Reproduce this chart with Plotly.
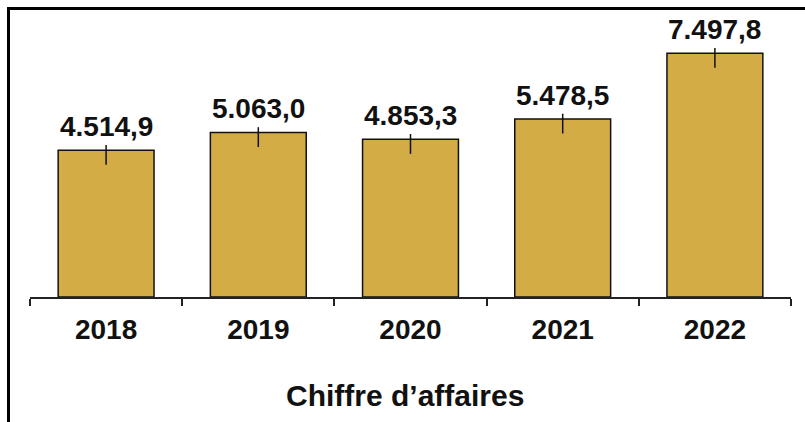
import plotly.graph_objects as go

# Chiffre d'affaires par année
years = ["2018", "2019", "2020", "2021", "2022"]
revenue = [4514.9, 5063.0, 4853.3, 5478.5, 7497.8]
labels = ["4.514,9", "5.063,0", "4.853,3", "5.478,5", "7.497,8"]

# small marker lines at the top of each bar (above / below the top)
err_plus = [160] * len(years)
err_minus = [450] * len(years)

FONT = "Liberation Sans, Arial, sans-serif"
W, H = 805, 422
ML, MT = 10, 10          # outer frame sits on the paper edge
PW, PH = W - ML, H - MT


def px_x(x):
    return (x - ML) / PW


def px_y(y):
    return (H - y) / PH


# main bar subplot placed inside the frame
X_LEFT, X_RIGHT = 30, 791
Y_TOP, Y_BASE = 20, 297

fig = go.Figure()
fig.add_trace(go.Bar(
    x=years,
    y=revenue,
    width=0.63,
    marker=dict(color="#D3AC45", line=dict(color="#111111", width=1.5)),
    error_y=dict(
        type="data", symmetric=False, array=err_plus, arrayminus=err_minus,
        width=0, thickness=1.5, color="#111111",
    ),
    hoverinfo="skip",
    xaxis="x", yaxis="y",
))
# empty trace that carries the frame axes
fig.add_trace(go.Scatter(x=[], y=[], xaxis="x2", yaxis="y2",
                         showlegend=False, hoverinfo="skip"))

annotations = []
for i, (v, lab) in enumerate(zip(revenue, labels)):
    annotations.append(dict(
        x=i, y=v, xref="x", yref="y", text=lab, showarrow=False,
        xanchor="center", yanchor="bottom", yshift=6,
        font=dict(family=FONT, size=28, color="#111111", weight="bold"),
    ))

annotations.append(dict(
    x=px_x(W / 2 + 2), y=px_y(395), xref="paper", yref="paper",
    text="Chiffre d’affaires", showarrow=False,
    xanchor="center", yanchor="middle",
    font=dict(family=FONT, size=30, color="#111111", weight="bold"),
))

fig.update_layout(
    width=W, height=H,
    margin=dict(l=ML, r=0, t=MT, b=0, pad=0),
    paper_bgcolor="white", plot_bgcolor="rgba(0,0,0,0)",
    showlegend=False,
    annotations=annotations,
    xaxis=dict(
        domain=[px_x(X_LEFT), px_x(X_RIGHT)], anchor="y",
        type="category", range=[-0.5, 4.5], autorange=False,
        tickson="boundaries", ticks="outside", ticklen=7,
        tickwidth=2, tickcolor="#222222", showline=True, linecolor="#222222",
        linewidth=2, showgrid=False, zeroline=False,
        tickfont=dict(family=FONT, size=28, color="#111111", weight="bold"),
        ticklabelstandoff=6,
    ),
    yaxis=dict(
        domain=[px_y(Y_BASE), px_y(Y_TOP)], anchor="x",
        range=[0, 8520], autorange=False, visible=False,
        showgrid=False, zeroline=False,
    ),
    # frame: top and left edges drawn as axis lines of a full-size subplot
    xaxis2=dict(
        domain=[0, 1], anchor="y2", side="top", range=[0, 1],
        showline=True, linecolor="black", linewidth=3,
        showticklabels=False, ticks="", showgrid=False, zeroline=False,
        fixedrange=True,
    ),
    yaxis2=dict(
        domain=[0, 1], anchor="x2", side="left", range=[0, 1],
        showline=True, linecolor="black", linewidth=3,
        showticklabels=False, ticks="", showgrid=False, zeroline=False,
        fixedrange=True,
    ),
)

fig.write_html("out.html")
